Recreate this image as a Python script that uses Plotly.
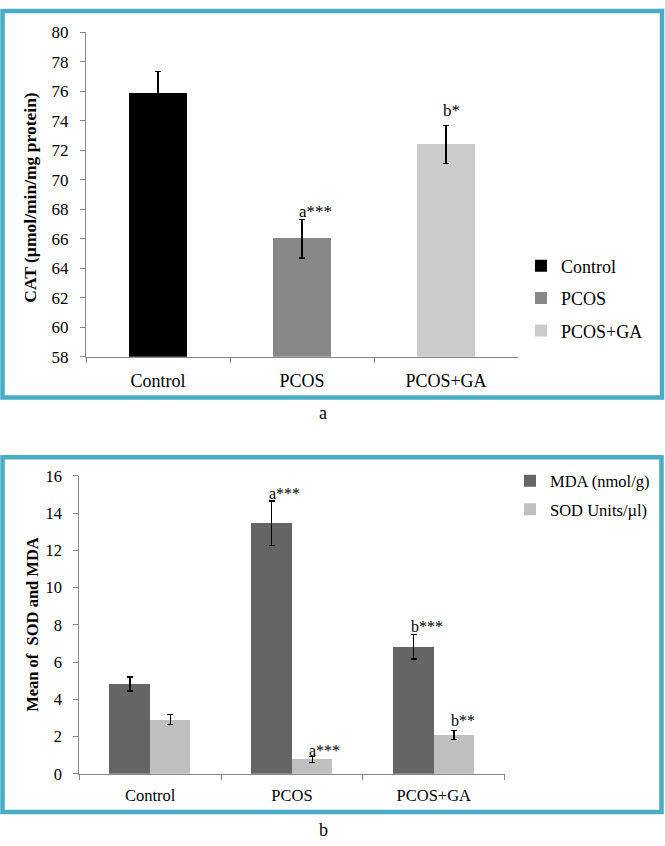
import plotly.graph_objects as go

# ---------------- data ----------------
categories = ["Control", "PCOS", "PCOS+GA"]

cat_values = [75.85, 66.0, 72.4]
cat_errors = [1.5, 1.3, 1.3]
cat_labels = ["", "a***", "b*"]
cat_ticks = [58, 60, 62, 64, 66, 68, 70, 72, 74, 76, 78, 80]

mda_name = "MDA (nmol/g)"
mda_values = [4.82, 13.45, 6.83]
mda_errors = [0.37, 1.2, 0.67]
mda_labels = ["", "a***", "b***"]

sod_name = "SOD Units/µl)"
sod_values = [2.9, 0.77, 2.08]
sod_errors = [0.27, 0.17, 0.23]
sod_labels = ["", "a***", "b**"]
sod_ticks = [0, 2, 4, 6, 8, 10, 12, 14, 16]

# ---------------- styling ----------------
W, H = 665, 846
FONT = "Liberation Serif, Times New Roman, serif"
TEAL = "#4BACC6"
AXIS = "#868686"
cat_colors = ["#000000", "#888888", "#cbcbcb"]
mda_color = "#656565"
sod_color = "#bfbfbf"


def fx(px):
    return px / W


def fy(px):
    return 1 - px / H


fig = go.Figure()

# ---- top chart (CAT) ----
for name, v, e, c in zip(categories, cat_values, cat_errors, cat_colors):
    fig.add_trace(go.Bar(
        x=[name], y=[v], name=name, marker_color=c, marker_line_width=0,
        width=0.4, offset=-0.2,
        error_y=dict(type="data", array=[e], color="black", thickness=1.3, width=3),
        xaxis="x", yaxis="y", legend="legend", legendgroup=name,
    ))

# ---- bottom chart (MDA / SOD) ----
BW = 0.285
fig.add_trace(go.Bar(
    x=categories, y=mda_values, name=mda_name, marker_color=mda_color, marker_line_width=0,
    width=BW, offset=-BW,
    error_y=dict(type="data", array=mda_errors, color="black", thickness=1.3, width=3),
    xaxis="x2", yaxis="y2", legend="legend2", legendgroup="mda",
))
fig.add_trace(go.Bar(
    x=categories, y=sod_values, name=sod_name, marker_color=sod_color, marker_line_width=0,
    width=BW, offset=0,
    error_y=dict(type="data", array=sod_errors, color="black", thickness=1.3, width=3),
    xaxis="x2", yaxis="y2", legend="legend2", legendgroup="sod",
))

annotations = []
# significance labels top
top_shift = [0, 8, 15]
for i, (v, e, t) in enumerate(zip(cat_values, cat_errors, cat_labels)):
    if t:
        annotations.append(dict(
            x=i, y=v + e, xref="x", yref="y", text=t, showarrow=False,
            xanchor="left", yanchor="middle", xshift=-5, yshift=top_shift[i],
            font=dict(family=FONT, size=17, color="black"),
        ))
mda_shift = [0, 8, 8]
sod_shift = [0, 6, 10]
for i, (v, e, t) in enumerate(zip(mda_values, mda_errors, mda_labels)):
    if t:
        annotations.append(dict(
            x=i - BW / 2, y=v + e, xref="x2", yref="y2", text=t, showarrow=False,
            xanchor="left", yanchor="middle", xshift=-5, yshift=mda_shift[i],
            font=dict(family=FONT, size=16, color="black"),
        ))
for i, (v, e, t) in enumerate(zip(sod_values, sod_errors, sod_labels)):
    if t:
        annotations.append(dict(
            x=i + BW / 2, y=v + e, xref="x2", yref="y2", text=t, showarrow=False,
            xanchor="left", yanchor="middle", xshift=-5, yshift=sod_shift[i],
            font=dict(family=FONT, size=16, color="black"),
        ))

# y-axis titles
annotations.append(dict(
    x=fx(30), y=fy(193), xref="paper", yref="paper", text="<b>CAT (µmol/min/mg protein)</b>",
    textangle=-90, showarrow=False, xanchor="center", yanchor="middle",
    font=dict(family=FONT, size=17.5, color="black"),
))
annotations.append(dict(
    x=fx(33), y=fy(630), xref="paper", yref="paper", text="<b>Mean of  SOD and MDA</b>",
    textangle=-90, showarrow=False, xanchor="center", yanchor="middle",
    font=dict(family=FONT, size=16.5, color="black"),
))
# panel captions
annotations.append(dict(
    x=fx(323), y=fy(413), xref="paper", yref="paper", text="a", showarrow=False,
    xanchor="center", yanchor="middle", font=dict(family=FONT, size=18, color="black"),
))
annotations.append(dict(
    x=fx(323), y=fy(840), xref="paper", yref="paper", text="b", showarrow=False,
    xanchor="center", yanchor="middle", font=dict(family=FONT, size=18, color="black"),
))

shapes = [
    dict(type="rect", xref="paper", yref="paper", x0=fx(2.5), x1=fx(662), y0=fy(397.5), y1=fy(2),
         line=dict(color=TEAL, width=4.5), fillcolor="rgba(0,0,0,0)", layer="above"),
    dict(type="rect", xref="paper", yref="paper", x0=fx(2.5), x1=fx(661.5), y0=fy(821.5), y1=fy(458.5),
         line=dict(color=TEAL, width=4.5), fillcolor="rgba(0,0,0,0)", layer="above"),
]

common_y = dict(showline=True, linecolor=AXIS, linewidth=1, ticks="outside", ticklen=5,
                tickcolor=AXIS, showgrid=False, zeroline=False)
common_x = dict(showline=True, linecolor=AXIS, linewidth=1, ticks="outside", ticklen=5,
                tickcolor=AXIS, tickson="boundaries", showgrid=False, zeroline=False,
                type="category", categoryorder="array", categoryarray=categories)

fig.update_layout(
    width=W, height=H, margin=dict(l=0, r=0, t=0, b=0),
    paper_bgcolor="white", plot_bgcolor="white",
    font=dict(family=FONT, color="black"),
    showlegend=True,
    xaxis=dict(domain=[fx(86), fx(518)], anchor="y", range=[-0.5, 2.5],
               tickfont=dict(family=FONT, size=18, color="black"), ticklabelstandoff=8, **common_x),
    yaxis=dict(domain=[fy(355.7), fy(24)], anchor="x", range=[58, 80], tickvals=cat_ticks,
               tickfont=dict(family=FONT, size=17, color="black"), ticklabelstandoff=8, **common_y),
    xaxis2=dict(domain=[fx(79.3), fx(504.7)], anchor="y2", range=[-0.5, 2.5],
                tickfont=dict(family=FONT, size=16.5, color="black"), ticklabelstandoff=6, **common_x),
    yaxis2=dict(domain=[fy(782.3), fy(477.7)], anchor="x2", range=[0, 16], tickvals=sod_ticks,
                tickfont=dict(family=FONT, size=16.5, color="black"), ticklabelstandoff=8, **common_y),
    legend=dict(x=fx(521), y=fy(244), xanchor="left", yanchor="top", bgcolor="rgba(0,0,0,0)",
                font=dict(family=FONT, size=18, color="black"), tracegroupgap=6, traceorder="grouped"),
    legend2=dict(x=fx(510), y=fy(465), xanchor="left", yanchor="top", bgcolor="rgba(0,0,0,0)",
                 font=dict(family=FONT, size=16.5, color="black"), tracegroupgap=4, traceorder="grouped"),
    annotations=annotations,
    shapes=shapes,
    bargap=0,
)

post = (
    "document.documentElement.style.margin='0';"
    "document.documentElement.style.padding='0';"
    "document.documentElement.style.overflow='hidden';"
    "document.body.style.margin='0';"
    "document.body.style.padding='0';"
    "document.body.style.overflow='hidden';"
    "var gd=document.getElementById('{plot_id}');"
    "gd.style.position='fixed';gd.style.top='0px';gd.style.left='0px';"
)
fig.write_html("out.html", config={"displayModeBar": False}, post_script=post)
